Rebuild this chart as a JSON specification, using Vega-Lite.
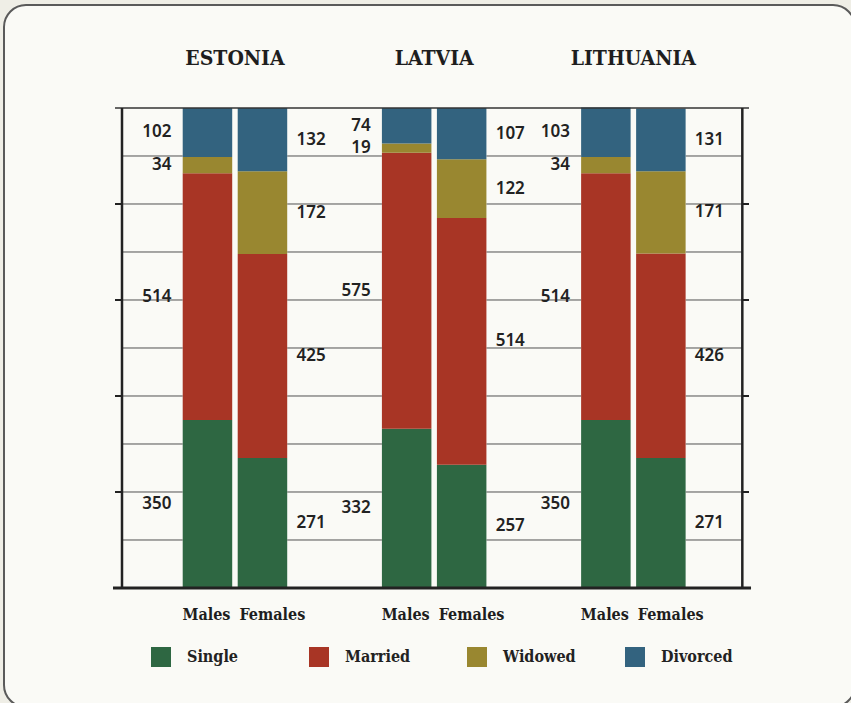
{
  "$schema": "https://vega.github.io/schema/vega-lite/v6.json",
  "width": 851,
  "height": 703,
  "autosize": {"type": "fit", "contains": "padding"},
  "padding": {"left": 4, "top": 5, "right": -4, "bottom": -4},
  "background": "#efeee6",
  "config": {
    "view": {"fill": "#fafaf6", "stroke": "#5a5a5a", "strokeWidth": 2, "cornerRadius": 22},
    "axis": {"disable": true}
  },
  "datasets": {
    "bars": [
      {"country": "ESTONIA", "sex": "Males", "status": "Single", "value": 350},
      {"country": "ESTONIA", "sex": "Males", "status": "Married", "value": 514},
      {"country": "ESTONIA", "sex": "Males", "status": "Widowed", "value": 34},
      {"country": "ESTONIA", "sex": "Males", "status": "Divorced", "value": 102},
      {"country": "ESTONIA", "sex": "Females", "status": "Single", "value": 271},
      {"country": "ESTONIA", "sex": "Females", "status": "Married", "value": 425},
      {"country": "ESTONIA", "sex": "Females", "status": "Widowed", "value": 172},
      {"country": "ESTONIA", "sex": "Females", "status": "Divorced", "value": 132},
      {"country": "LATVIA", "sex": "Males", "status": "Single", "value": 332},
      {"country": "LATVIA", "sex": "Males", "status": "Married", "value": 575},
      {"country": "LATVIA", "sex": "Males", "status": "Widowed", "value": 19},
      {"country": "LATVIA", "sex": "Males", "status": "Divorced", "value": 74},
      {"country": "LATVIA", "sex": "Females", "status": "Single", "value": 257},
      {"country": "LATVIA", "sex": "Females", "status": "Married", "value": 514},
      {"country": "LATVIA", "sex": "Females", "status": "Widowed", "value": 122},
      {"country": "LATVIA", "sex": "Females", "status": "Divorced", "value": 107},
      {"country": "LITHUANIA", "sex": "Males", "status": "Single", "value": 350},
      {"country": "LITHUANIA", "sex": "Males", "status": "Married", "value": 514},
      {"country": "LITHUANIA", "sex": "Males", "status": "Widowed", "value": 34},
      {"country": "LITHUANIA", "sex": "Males", "status": "Divorced", "value": 103},
      {"country": "LITHUANIA", "sex": "Females", "status": "Single", "value": 271},
      {"country": "LITHUANIA", "sex": "Females", "status": "Married", "value": 426},
      {"country": "LITHUANIA", "sex": "Females", "status": "Widowed", "value": 171},
      {"country": "LITHUANIA", "sex": "Females", "status": "Divorced", "value": 131}
    ],
    "countries": [{"country": "ESTONIA"}, {"country": "LATVIA"}, {"country": "LITHUANIA"}],
    "grid": [{"v": 100}, {"v": 200}, {"v": 300}, {"v": 400}, {"v": 500}, {"v": 600}, {"v": 700}, {"v": 800}, {"v": 900}],
    "ticks": [{"v": 200}, {"v": 400}, {"v": 600}, {"v": 800}],
    "one": [{}]
  },
  "layer": [
    {
      "data": {"name": "grid"},
      "mark": {"type": "rule", "stroke": "#505050", "strokeWidth": 1},
      "encoding": {
        "y": {"field": "v", "type": "quantitative", "scale": {"domain": [-247.92, 1214.58], "nice": false, "zero": false}},
        "x": {"datum": "ESTONIA", "type": "nominal", "bandPosition": -0.5809, "scale": {"domain": ["ESTONIA", "LATVIA", "LITHUANIA"], "paddingInner": 0.4754, "paddingOuter": 0.8737, "align": 0.5134}},
        "x2": {"datum": "LITHUANIA", "bandPosition": 1.5426}
      }
    },
    {
      "data": {"name": "countries"},
      "mark": {"type": "bar", "fill": "#fafaf6"},
      "encoding": {
        "x": {"field": "country", "type": "nominal"},
        "y": {"datum": 0, "type": "quantitative"},
        "y2": {"datum": 1000}
      }
    },
    {
      "data": {"name": "bars"},
      "transform": [{"window": [{"op": "row_number", "as": "rank"}], "groupby": ["country", "sex"]}],
      "mark": {"type": "bar"},
      "encoding": {
        "x": {"field": "country", "type": "nominal"},
        "xOffset": {"field": "sex", "type": "nominal", "scale": {"domain": ["Males", "Females"], "paddingInner": 0.1, "paddingOuter": 0}},
        "y": {"field": "value", "type": "quantitative", "stack": "zero"},
        "order": {"field": "rank", "type": "quantitative"},
        "color": {
          "field": "status", "type": "nominal",
          "scale": {"domain": ["Single", "Married", "Widowed", "Divorced"], "range": ["#2e6742", "#a83525", "#998730", "#33637f"]},
          "legend": {
            "orient": "none", "legendX": 147, "legendY": 642, "direction": "horizontal", "columns": 4, "gridAlign": "all",
            "title": null, "symbolType": "square", "symbolSize": 400, "symbolStrokeWidth": 0, "symbolOpacity": 1,
            "labelFont": "DejaVu Serif Condensed, DejaVu Serif", "labelFontSize": 16, "labelFontWeight": "bold", "labelColor": "#222222",
            "labelOffset": 16, "columnPadding": 49, "padding": 0
          }
        }
      }
    },
    {
      "data": {"name": "ticks"},
      "mark": {"type": "rule", "stroke": "#222222", "strokeWidth": 2},
      "encoding": {
        "y": {"field": "v", "type": "quantitative"},
        "x": {"datum": "ESTONIA", "type": "nominal", "bandPosition": -0.6478},
        "x2": {"datum": "ESTONIA", "bandPosition": -0.5809}
      }
    },
    {
      "data": {"name": "ticks"},
      "mark": {"type": "rule", "stroke": "#222222", "strokeWidth": 2},
      "encoding": {
        "y": {"field": "v", "type": "quantitative"},
        "x": {"datum": "LITHUANIA", "type": "nominal", "bandPosition": 1.5426},
        "x2": {"datum": "LITHUANIA", "bandPosition": 1.6067}
      }
    },
    {
      "data": {"name": "one"},
      "mark": {"type": "rule", "stroke": "#333333", "strokeWidth": 1.5},
      "encoding": {
        "y": {"datum": 1000, "type": "quantitative"},
        "x": {"datum": "ESTONIA", "type": "nominal", "bandPosition": -0.6478},
        "x2": {"datum": "LITHUANIA", "bandPosition": 1.6067}
      }
    },
    {
      "data": {"name": "one"},
      "mark": {"type": "rule", "stroke": "#222222", "strokeWidth": 2.5},
      "encoding": {
        "x": {"datum": "ESTONIA", "type": "nominal", "bandPosition": -0.5809},
        "y": {"datum": 0, "type": "quantitative"},
        "y2": {"datum": 1000}
      }
    },
    {
      "data": {"name": "one"},
      "mark": {"type": "rule", "stroke": "#222222", "strokeWidth": 2.5},
      "encoding": {
        "x": {"datum": "LITHUANIA", "type": "nominal", "bandPosition": 1.5426},
        "y": {"datum": 0, "type": "quantitative"},
        "y2": {"datum": 1000}
      }
    },
    {
      "data": {"name": "one"},
      "mark": {"type": "rule", "stroke": "#222222", "strokeWidth": 3},
      "encoding": {
        "y": {"datum": 0, "type": "quantitative"},
        "x": {"datum": "ESTONIA", "type": "nominal", "bandPosition": -0.667},
        "x2": {"datum": "LITHUANIA", "bandPosition": 1.6258}
      }
    },
    {
      "data": {"name": "bars"},
      "transform": [
        {"window": [{"op": "row_number", "as": "rank"}], "groupby": ["country", "sex"]},
        {"filter": "datum.sex === 'Males'"}
      ],
      "mark": {"type": "text", "align": "right", "baseline": "middle", "dx": -36, "font": "Noto Sans", "fontSize": 17, "fontWeight": 600, "fill": "#222222"},
      "encoding": {
        "x": {"field": "country", "type": "nominal"},
        "xOffset": {"field": "sex", "type": "nominal"},
        "y": {"field": "value", "type": "quantitative", "stack": "zero", "bandPosition": 0.5},
        "detail": {"field": "status", "type": "nominal"},
        "order": {"field": "rank", "type": "quantitative"},
        "text": {"field": "value", "type": "quantitative"}
      }
    },
    {
      "data": {"name": "bars"},
      "transform": [
        {"window": [{"op": "row_number", "as": "rank"}], "groupby": ["country", "sex"]},
        {"filter": "datum.sex === 'Females'"}
      ],
      "mark": {"type": "text", "align": "left", "baseline": "middle", "dx": 34, "font": "Noto Sans", "fontSize": 17, "fontWeight": 600, "fill": "#222222"},
      "encoding": {
        "x": {"field": "country", "type": "nominal"},
        "xOffset": {"field": "sex", "type": "nominal"},
        "y": {"field": "value", "type": "quantitative", "stack": "zero", "bandPosition": 0.5},
        "detail": {"field": "status", "type": "nominal"},
        "order": {"field": "rank", "type": "quantitative"},
        "text": {"field": "value", "type": "quantitative"}
      }
    },
    {
      "data": {"name": "countries"},
      "mark": {"type": "text", "baseline": "middle", "align": "center", "dy": -49, "font": "DejaVu Serif Condensed, DejaVu Serif", "fontSize": 21, "fontWeight": "bold", "fill": "#1e1e1e"},
      "encoding": {
        "x": {"field": "country", "type": "nominal"},
        "y": {"datum": 1000, "type": "quantitative"},
        "text": {"field": "country", "type": "nominal"}
      }
    },
    {
      "data": {"name": "bars"},
      "transform": [{"filter": "datum.status === 'Single' && datum.sex === 'Males'"}],
      "mark": {"type": "text", "baseline": "middle", "align": "right", "dx": 23, "dy": 27, "font": "DejaVu Serif Condensed, DejaVu Serif", "fontSize": 16, "fontWeight": "bold", "fill": "#1e1e1e"},
      "encoding": {
        "x": {"field": "country", "type": "nominal"},
        "xOffset": {"field": "sex", "type": "nominal"},
        "y": {"datum": 0, "type": "quantitative"},
        "text": {"field": "sex", "type": "nominal"}
      }
    },
    {
      "data": {"name": "bars"},
      "transform": [{"filter": "datum.status === 'Single' && datum.sex === 'Females'"}],
      "mark": {"type": "text", "baseline": "middle", "align": "left", "dx": -23, "dy": 27, "font": "DejaVu Serif Condensed, DejaVu Serif", "fontSize": 16, "fontWeight": "bold", "fill": "#1e1e1e"},
      "encoding": {
        "x": {"field": "country", "type": "nominal"},
        "xOffset": {"field": "sex", "type": "nominal"},
        "y": {"datum": 0, "type": "quantitative"},
        "text": {"field": "sex", "type": "nominal"}
      }
    }
  ]
}
